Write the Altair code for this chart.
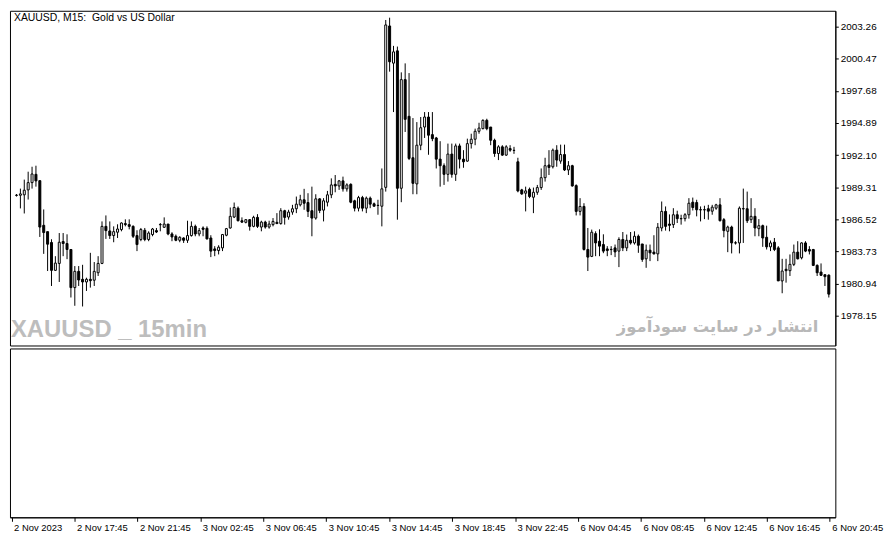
import json
import altair as alt
import pandas as pd

opens = [1988.62,1988.61,1988.65,1989.08,1989.71,1990.43,1989.88,1986.00,1985.45,1984.51,
1982.09,1982.69,1984.59,1984.42,1983.90,1980.59,1982.00,1981.31,1981.08,1981.31,
1981.23,1981.88,1982.69,1985.91,1985.51,1985.11,1985.40,1985.63,1986.15,1986.06,
1985.91,1985.11,1984.77,1985.57,1984.77,1985.20,1985.54,1986.07,1985.83,1986.11,
1985.25,1985.05,1984.70,1984.90,1984.70,1985.11,1985.91,1985.25,1985.77,1985.74,
1984.90,1983.95,1983.81,1984.04,1985.14,1985.77,1986.72,1987.49,1986.40,1986.26,
1986.49,1985.91,1986.69,1985.85,1986.28,1985.85,1986.06,1986.26,1986.15,1987.27,
1986.72,1987.15,1987.44,1987.78,1988.22,1987.98,1987.27,1986.63,1988.30,1987.32,
1988.01,1988.65,1989.56,1989.42,1989.86,1989.17,1989.56,1988.13,1987.49,1988.41,
1987.49,1988.36,1987.87,1987.74,1987.66,1989.30,2003.32,2000.09,2001.16,1989.22,
1998.66,1995.47,1991.87,1989.60,1992.96,1994.54,1995.41,1993.88,1993.59,1991.75,
1991.18,1990.43,1992.19,1990.43,1992.90,1991.75,1991.58,1993.10,1993.48,1994.17,
1994.40,1995.12,1994.54,1993.39,1992.24,1992.82,1992.10,1992.67,1992.52,1991.52,
1989.08,1988.79,1989.13,1988.44,1988.87,1989.28,1990.14,1991.24,1991.09,1992.53,
1991.58,1992.15,1990.81,1991.18,1989.45,1987.21,1987.64,1983.90,1983.30,1985.28,
1984.62,1984.33,1983.95,1983.91,1984.04,1983.76,1984.77,1984.04,1984.70,1984.47,
1985.05,1984.38,1983.09,1983.84,1983.67,1983.52,1985.77,1987.21,1986.11,1986.06,
1986.92,1986.59,1986.58,1986.92,1988.01,1987.98,1987.36,1987.36,1987.44,1987.23,
1987.49,1987.78,1986.49,1985.48,1985.85,1984.48,1984.47,1987.45,1987.44,1986.49,
1986.78,1985.71,1985.97,1984.96,1984.13,1984.53,1984.04,1981.17,1982.18,1982.06,
1982.61,1983.67,1983.18,1984.47,1983.90,1983.90,1982.52,1981.94,1981.71,1981.67]

highs = [1988.72,1989.19,1989.97,1990.66,1991.09,1991.18,1989.88,1987.38,1985.45,1984.79,
1983.32,1985.33,1985.33,1985.22,1983.92,1982.46,1982.46,1982.57,1981.45,1983.61,
1982.81,1983.32,1986.34,1986.86,1986.34,1985.91,1986.09,1986.26,1986.52,1986.52,
1986.00,1985.57,1985.77,1985.77,1985.48,1985.77,1985.77,1986.20,1986.69,1986.11,
1985.40,1985.20,1985.05,1984.96,1986.40,1986.34,1986.06,1985.77,1985.91,1985.91,
1985.14,1984.19,1984.27,1985.25,1985.77,1987.55,1987.98,1987.64,1986.69,1986.54,
1986.54,1986.83,1986.97,1986.40,1986.40,1986.40,1986.63,1987.06,1987.49,1987.35,
1987.35,1987.78,1988.50,1988.65,1989.17,1988.79,1989.36,1988.70,1988.36,1988.36,
1988.99,1990.08,1990.37,1989.94,1990.23,1989.65,1989.65,1988.22,1988.56,1988.56,
1988.50,1988.50,1987.98,1988.22,1990.94,2003.84,2004.04,2001.59,2001.53,1999.29,
2000.07,1999.23,1995.32,1994.97,1995.41,1995.84,1995.84,1995.84,1993.68,1993.31,
1991.38,1993.10,1993.10,1993.10,1993.10,1992.53,1993.53,1993.96,1994.40,1994.91,
1995.21,1995.26,1994.54,1993.53,1992.96,1992.96,1992.96,1992.96,1992.82,1991.87,
1989.17,1989.36,1989.28,1989.28,1989.51,1990.94,1991.87,1992.53,1992.67,1992.96,
1993.01,1993.01,1991.58,1991.26,1989.56,1988.36,1987.92,1985.77,1985.63,1985.48,
1985.65,1985.22,1984.19,1984.19,1984.33,1984.96,1985.42,1985.20,1985.42,1985.48,
1985.20,1984.38,1984.33,1984.33,1985.14,1986.20,1988.07,1987.64,1986.95,1987.49,
1987.27,1986.92,1987.06,1988.36,1988.41,1988.22,1987.64,1987.70,1987.78,1987.78,
1987.87,1988.36,1986.63,1985.97,1985.97,1984.62,1987.64,1989.19,1988.93,1988.36,
1987.49,1986.54,1986.06,1985.97,1984.68,1984.90,1984.19,1983.09,1983.09,1983.47,
1984.33,1984.62,1984.53,1984.62,1984.19,1983.95,1982.61,1982.69,1981.71,1981.74]

lows = [1988.50,1987.47,1987.03,1988.24,1989.19,1989.36,1984.99,1983.52,1982.03,1980.73,
1982.03,1981.08,1983.32,1983.06,1979.73,1979.01,1980.73,1978.95,1980.30,1980.59,
1980.73,1981.60,1982.63,1984.82,1984.82,1984.53,1984.90,1985.48,1985.91,1985.65,
1984.90,1983.76,1984.62,1984.62,1984.62,1985.05,1985.33,1985.48,1985.77,1985.14,
1984.62,1984.62,1984.53,1984.47,1984.47,1985.02,1985.05,1985.05,1985.05,1984.77,
1983.24,1983.32,1983.47,1983.76,1985.05,1985.71,1986.63,1986.34,1986.20,1986.17,
1985.54,1985.83,1985.77,1985.48,1985.71,1985.71,1985.91,1986.11,1986.06,1986.06,
1986.49,1986.92,1987.06,1987.64,1987.35,1986.72,1985.05,1986.49,1987.06,1986.34,
1987.64,1988.36,1988.87,1989.08,1988.93,1988.93,1987.92,1987.21,1987.21,1987.21,
1987.06,1987.49,1987.64,1986.92,1985.91,1988.93,1999.35,1995.84,1986.49,1988.01,
1994.11,1991.67,1988.70,1988.70,1992.53,1993.59,1992.13,1993.31,1990.94,1989.36,
1989.51,1989.80,1990.14,1989.86,1990.94,1991.00,1991.52,1992.67,1992.96,1993.96,
1994.34,1994.26,1992.96,1991.95,1991.67,1992.04,1992.04,1992.39,1992.21,1988.87,
1988.65,1987.21,1988.36,1987.06,1988.65,1989.08,1989.80,1990.37,1990.94,1991.09,
1991.35,1990.72,1990.37,1989.36,1986.86,1986.86,1983.81,1982.03,1983.24,1983.32,
1983.32,1983.58,1983.32,1983.41,1983.24,1982.37,1983.76,1983.76,1984.33,1984.33,
1983.61,1982.83,1982.31,1982.89,1983.47,1982.89,1985.48,1985.54,1985.48,1985.77,
1986.20,1986.06,1986.34,1986.58,1987.29,1986.78,1986.34,1986.54,1986.49,1986.92,
1987.35,1986.34,1984.96,1983.67,1983.56,1984.33,1983.56,1984.47,1986.20,1986.20,
1985.05,1985.05,1984.13,1983.90,1983.76,1983.76,1981.17,1980.10,1981.02,1981.60,
1982.46,1983.04,1983.04,1983.67,1983.47,1982.46,1981.60,1981.60,1980.73,1979.73]

closes = [1988.60,1988.73,1989.05,1989.71,1990.46,1989.86,1985.85,1985.37,1984.36,1982.09,
1982.72,1984.53,1984.42,1983.90,1980.59,1982.00,1981.25,1981.08,1981.31,1981.19,
1982.00,1982.69,1985.91,1985.54,1985.11,1985.45,1985.68,1986.20,1986.06,1985.91,
1985.05,1984.33,1985.63,1984.77,1985.33,1985.68,1985.42,1986.05,1986.11,1985.25,
1984.99,1984.70,1984.96,1984.70,1985.11,1985.91,1985.25,1985.54,1985.65,1984.82,
1983.76,1983.81,1984.10,1985.20,1985.71,1986.78,1987.55,1986.40,1986.28,1986.49,
1985.91,1986.69,1985.91,1986.28,1985.85,1986.11,1986.34,1986.15,1987.27,1986.69,
1987.15,1987.44,1987.84,1988.22,1987.92,1987.21,1986.63,1988.30,1987.29,1988.13,
1988.65,1989.51,1989.42,1989.86,1989.17,1989.51,1988.01,1987.49,1988.41,1987.49,
1988.36,1987.84,1987.66,1987.72,1989.17,2003.41,2000.21,2001.07,1989.22,1998.66,
1995.21,1991.81,1989.65,1992.96,1994.48,1995.41,1993.83,1993.53,1991.75,1991.18,
1990.43,1992.19,1990.43,1992.90,1991.75,1991.52,1993.10,1993.48,1994.17,1994.45,
1995.12,1994.40,1993.39,1992.24,1992.82,1992.10,1992.82,1992.53,1992.50,1988.99,
1988.73,1988.99,1988.50,1988.87,1989.28,1990.14,1991.18,1991.03,1992.53,1991.67,
1992.15,1990.81,1991.18,1989.42,1987.21,1987.64,1983.90,1983.24,1985.40,1984.47,
1984.19,1983.76,1983.81,1983.89,1983.69,1984.77,1984.04,1984.70,1984.47,1985.05,
1984.27,1983.04,1983.84,1983.61,1983.52,1985.83,1987.21,1985.91,1986.00,1986.92,
1986.58,1986.57,1986.92,1987.92,1987.55,1987.35,1987.34,1987.34,1987.23,1987.58,
1987.78,1986.40,1985.54,1985.85,1984.47,1984.46,1987.49,1987.43,1986.40,1986.78,
1985.77,1985.97,1984.90,1984.13,1984.47,1983.90,1981.17,1982.03,1982.06,1982.61,
1983.67,1983.09,1984.47,1983.76,1983.76,1982.52,1981.88,1981.66,1981.54,1980.02]

price_ticks = [1978.15, 1980.94, 1983.73, 1986.52, 1989.31, 1992.10, 1994.89, 1997.68, 2000.47, 2003.26]
time_labels = ["2 Nov 2023", "2 Nov 17:45", "2 Nov 21:45", "3 Nov 02:45", "3 Nov 06:45",
               "3 Nov 10:45", "3 Nov 14:45", "3 Nov 18:45", "3 Nov 22:45", "6 Nov 04:45",
               "6 Nov 08:45", "6 Nov 12:45", "6 Nov 16:45", "6 Nov 20:45"]
bars_per_label = 16
title_text = ["XAUUSD, M15:\u00a0\u00a0Gold vs US Dollar"]
watermark_left = ["XAUUSD _ 15min"]
watermark_right = ["انتشار در سایت سودآموز"]

df = pd.DataFrame({"i": list(range(len(opens))), "open": opens, "high": highs,
                   "low": lows, "close": closes})

W = 831
H_MAIN = 337
H_LOW = 170

xscale = alt.Scale(domain=[-0.4, 209.4], nice=False, zero=False)
yscale = alt.Scale(domain=[1975.56, 2004.64], nice=False, zero=False)

price_axis = alt.Axis(orient="right", values=price_ticks, format=".2f",
                      tickSize=3, labelPadding=2, labelFontSize=10,
                      labelOverlap=False, labelFlush=False, labelBound=False,
                      labelFont="Liberation Sans", grid=False, title=None)

base = alt.Chart(df)
wick = base.mark_rule(color="black", strokeWidth=1).encode(
    x=alt.X("i:Q", scale=xscale, axis=None),
    y=alt.Y("low:Q", scale=yscale, title=None, axis=price_axis),
    y2="high:Q",
)
body = base.mark_bar(size=2, stroke="black", strokeWidth=1).encode(
    x=alt.X("i:Q", scale=xscale, axis=None),
    y=alt.Y("open:Q", scale=yscale, title=None, axis=price_axis),
    y2="close:Q",
    fill=alt.condition("datum.close >= datum.open", alt.value("white"), alt.value("black")),
)

title_layer = alt.Chart(pd.DataFrame({"t": title_text})).mark_text(
    align="left", baseline="top", font="Liberation Sans", fontSize=10.5, color="black"
).encode(x=alt.value(4), y=alt.value(2), text="t:N")

wm_left = alt.Chart(pd.DataFrame({"t": watermark_left})).mark_text(
    align="left", baseline="alphabetic", font="Liberation Sans",
    fontSize=24, fontWeight="bold", color="#bdbdbd"
).encode(x=alt.value(1), y=alt.value(328), text="t:N")

wm_right = alt.Chart(pd.DataFrame({"t": watermark_right})).mark_text(
    align="right", baseline="alphabetic", font="DejaVu Sans",
    fontSize=16.5, fontWeight="bold", color="#b8b8b8"
).encode(x=alt.value(814), y=alt.value(323), text="t:N")

main = alt.layer(wick, body, title_layer, wm_left, wm_right).properties(width=W, height=H_MAIN)

tick_idx = [k * bars_per_label for k in range(len(time_labels))]
label_expr = json.dumps(time_labels, ensure_ascii=False) + "[round(datum.value / %d)]" % bars_per_label

lower = alt.Chart(pd.DataFrame({"i": tick_idx})).mark_point(opacity=0).encode(
    x=alt.X("i:Q", scale=xscale, title=None,
            axis=alt.Axis(values=tick_idx, labelExpr=label_expr, tickSize=4,
                          labelAlign="left", labelBaseline="top", labelPadding=1,
                          labelOffset=2, labelOverlap=False, labelFlush=False,
                          labelFontSize=9.5, labelFont="Liberation Sans", grid=False)),
).properties(width=W, height=H_LOW)

chart = alt.vconcat(main, lower, spacing=1).properties(
    padding=0, background="white"
).configure_view(
    stroke="black", strokeWidth=1
).configure_axis(
    labelColor="black", tickColor="black", domainColor="black", domainWidth=1,
    labelOverlap=False
).configure_axisY(
    labelOverlap=False
)

chart.save("out.html", embed_options={"renderer": "svg", "actions": False})
